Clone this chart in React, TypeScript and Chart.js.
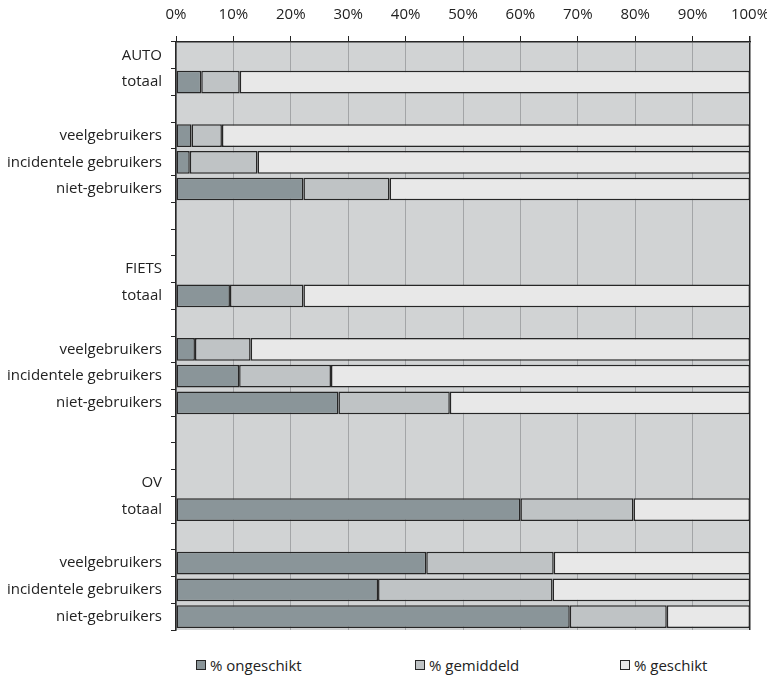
import React, { useEffect, useRef } from 'react';
import { Chart, registerables } from 'chart.js';

Chart.register(...registerables);

const categories = [
  'AUTO', 'totaal', '', 'veelgebruikers', 'incidentele gebruikers', 'niet-gebruikers',
  '', '',
  'FIETS', 'totaal', '', 'veelgebruikers', 'incidentele gebruikers', 'niet-gebruikers',
  '', '',
  'OV', 'totaal', '', 'veelgebruikers', 'incidentele gebruikers', 'niet-gebruikers',
];

const ongeschikt = [null, 4.4, null, 2.7, 2.4, 22.2, null, null, null, 9.4, null, 3.3, 11.0, 28.3, null, null, null, 60.0, null, 43.6, 35.2, 68.6];
const gemiddeld = [null, 6.7, null, 5.3, 11.8, 15.0, null, null, null, 12.8, null, 9.7, 16.0, 19.4, null, null, null, 19.7, null, 22.2, 30.4, 16.9];
const geschikt = [null, 88.9, null, 92.0, 85.8, 62.8, null, null, null, 77.8, null, 87.0, 73.0, 52.3, null, null, null, 20.3, null, 34.2, 34.4, 14.5];

const seriesNames = ['% ongeschikt', '% gemiddeld', '% geschikt'];
const seriesColors = ['#8a9599', '#bfc3c5', '#e8e8e8'];
const xTicks = [0, 10, 20, 30, 40, 50, 60, 70, 80, 90, 100];

const FONT = '"Open Sans", "DejaVu Sans", sans-serif';

const bgPlugin = {
  id: 'plotBg',
  beforeDraw(chart: any) {
    const { ctx, chartArea } = chart;
    if (!chartArea) return;
    ctx.save();
    ctx.fillStyle = '#d1d3d4';
    ctx.fillRect(chartArea.left, chartArea.top, chartArea.right - chartArea.left, chartArea.bottom - chartArea.top);
    ctx.restore();
  },
};

function zeroPadding(scale: any) {
  scale.paddingLeft = 0;
  scale.paddingRight = 0;
  scale.paddingTop = 0;
  scale.paddingBottom = 0;
}

export default function App() {
  const ref = useRef<HTMLCanvasElement | null>(null);

  useEffect(() => {
    if (!ref.current) return;
    const data = [ongeschikt, gemiddeld, geschikt];
    const chart = new Chart(ref.current, {
      type: 'bar',
      data: {
        labels: categories,
        datasets: data.map((d, i) => ({
          label: seriesNames[i],
          data: d as any,
          backgroundColor: seriesColors[i],
          borderColor: '#262626',
          borderWidth: 1.5,
          borderSkipped: false,
          barPercentage: 0.85,
          categoryPercentage: 1,
        })),
      },
      options: {
        indexAxis: 'y',
        animation: false,
        responsive: false,
        maintainAspectRatio: false,
        layout: { padding: { left: 0, right: 17, top: 0, bottom: 2 } },
        plugins: {
          legend: { display: false },
          tooltip: { enabled: false },
        },
        scales: {
          x: {
            type: 'linear',
            position: 'top',
            stacked: true,
            min: 0,
            max: 100,
            afterBuildTicks(scale: any) {
              scale.ticks = xTicks.map((v) => ({ value: v }));
            },
            afterFit(scale: any) {
              scale.height = 42;
              zeroPadding(scale);
            },
            ticks: {
              callback: (v: any) => v + '%',
              color: '#222',
              font: { family: FONT, size: 15 },
              padding: 12,
              maxRotation: 0,
            },
            grid: {
              color: (c: any) => (c.tick && c.tick.value === 100 ? '#262626' : '#a3a5a7'),
              lineWidth: (c: any) => (c.tick && c.tick.value === 100 ? 1.5 : 1),
              tickColor: '#262626',
              tickLength: 6,
            },
            border: { color: '#262626', width: 1.5 },
          },
          y: {
            type: 'category',
            stacked: true,
            afterFit(scale: any) {
              scale.width = 176;
              zeroPadding(scale);
            },
            ticks: {
              autoSkip: false,
              color: '#222',
              font: { family: FONT, size: 15 },
              padding: 9,
            },
            grid: {
              drawOnChartArea: false,
              tickColor: '#262626',
              tickLength: 5,
            },
            border: { color: '#262626', width: 1.5 },
          },
        },
      },
      plugins: [bgPlugin],
    });
    return () => chart.destroy();
  }, []);

  const legendLeft = [196, 415, 620];

  return (
    <div style={{ position: 'fixed', left: 0, top: 0, width: 767, height: 678, background: '#fff', fontFamily: FONT }}>
      <canvas ref={ref} width={767} height={632} style={{ display: 'block', width: 767, height: 632 }} />
      {seriesNames.map((name, i) => (
        <div
          key={name}
          style={{
            position: 'absolute',
            left: legendLeft[i],
            top: 655,
            display: 'flex',
            alignItems: 'center',
            fontSize: 15,
            color: '#222',
            lineHeight: '20px',
            whiteSpace: 'nowrap',
          }}
        >
          <span
            style={{
              display: 'inline-block',
              width: 8,
              height: 8,
              background: seriesColors[i],
              border: '1px solid #262626',
              marginRight: 4,
            }}
          />
          {name}
        </div>
      ))}
    </div>
  );
}
